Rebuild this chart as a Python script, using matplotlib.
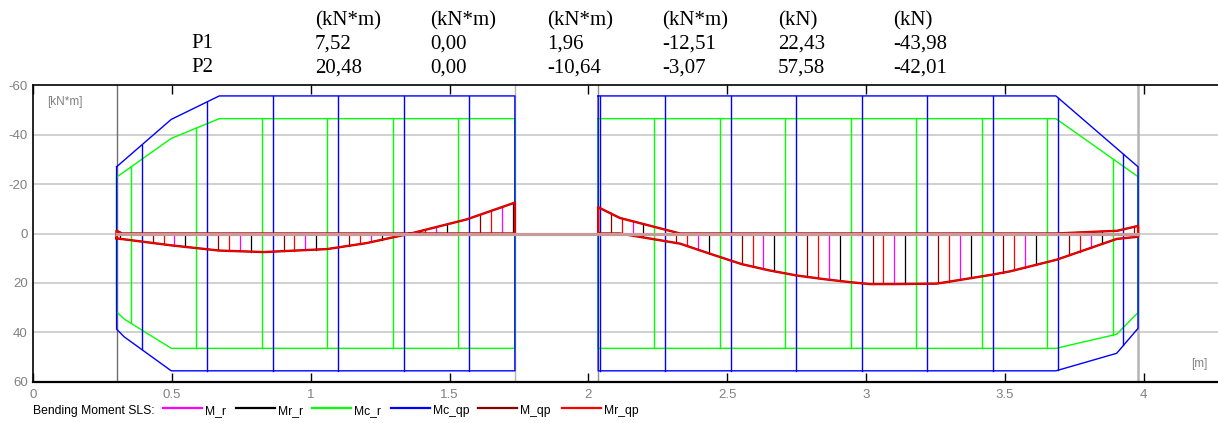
import matplotlib
matplotlib.use("Agg")
import matplotlib.pyplot as plt
import numpy as np
from matplotlib.lines import Line2D

# ---------------- data ----------------
table_rows = ["P1", "P2"]
table_units = ["(kN*m)", "(kN*m)", "(kN*m)", "(kN*m)", "(kN)", "(kN)"]
p1_values = ["7,52", "0,00", "1,96", "-12,51", "22,43", "-43,98"]
p2_values = ["20,48", "0,00", "-10,64", "-3,07", "57,58", "-42,01"]

supports = [0.30, 1.735, 2.035, 3.98]
x_ticks = [0, 0.5, 1, 1.5, 2, 2.5, 3, 3.5, 4]
x_tick_labels = ["0", "0.5", "1", "1.5", "2", "2.5", "3", "3.5", "4"]
y_ticks = [-60, -40, -20, 0, 20, 40, 60]
y_grid = [-40, -20, 0, 20, 40]

series_names = ["M_r", "Mr_r", "Mc_r", "Mc_qp", "M_qp", "Mr_qp"]
series_colors = ["#ff00ff", "#000000", "#00ff00", "#0000ff", "#8b0000", "#ff0000"]

# span P1 - capacity envelopes (Mc_qp, Mc_r)
p1_top_x = [0.30, 0.497, 0.67, 1.735]
p1_mcqp_top = [-27.0, -46.2, -55.7, -55.7]
p1_mcr_top = [-22.8, -38.5, -46.5, -46.5]
p1_bot_x = [0.30, 0.327, 0.497, 1.735]
p1_mcqp_bot = [38.7, 41.8, 55.6, 55.6]
p1_mcr_bot = [31.7, 34.6, 46.5, 46.5]

# span P2 - capacity envelopes
p2_top_x = [2.035, 3.684, 3.98]
p2_mcqp_top = [-55.7, -55.7, -27.0]
p2_mcr_top = [-46.5, -46.5, -23.0]
p2_bot_x = [2.035, 3.684, 3.903, 3.98]
p2_mcqp_bot = [55.6, 55.6, 48.5, 38.4]
p2_mcr_bot = [46.5, 46.5, 40.8, 32.0]

# span P1 - bending moment envelope (max / min)
p1_max_x = [0.30, 0.497, 0.669, 0.83, 1.059, 1.20, 1.335, 1.36, 1.735]
p1_max_m = [1.96, 4.8, 6.9, 7.52, 6.3, 3.9, 0.6, 0.0, 0.0]
p1_min_x = [0.30, 0.32, 1.36, 1.561, 1.735]
p1_min_m = [-1.1, 0.0, 0.0, -5.7, -12.51]

# span P2 - bending moment envelope (max / min)
p2_max_x = [2.035, 2.113, 2.33, 2.43, 2.552, 2.65, 2.75, 2.85, 2.942, 3.014,
            3.10, 3.254, 3.30, 3.458, 3.52, 3.687, 3.903, 3.98]
p2_max_m = [0.0, 0.0, 4.1, 7.9, 12.4, 14.9, 17.0, 18.5, 19.7, 20.48,
            20.48, 20.3, 19.5, 16.6, 15.3, 10.6, 2.2, 1.3]
p2_min_x = [2.035, 2.113, 2.33, 3.684, 3.905, 3.98]
p2_min_m = [-10.64, -6.3, 0.0, 0.0, -1.1, -3.07]

# ---------------- style / layout ----------------
W, H = 1218, 423
fig = plt.figure(figsize=(W / 100, H / 100), dpi=100)
ax_left, ax_right, ax_top, ax_bot = 33.3, 1218, 85.3, 381.7
ax = fig.add_axes([ax_left / W, 1 - ax_bot / H, (ax_right - ax_left) / W, (ax_bot - ax_top) / H])
xmax = 4.268
ax.set_xlim(0, xmax)
ax.set_ylim(60, -60)

SANS = ["Liberation Sans", "DejaVu Sans"]
SERIF = ["Liberation Serif", "DejaVu Serif"]
GRAY_TXT = "#808080"

for gy in y_grid:
    ax.axhline(gy, color="#c8c8c8", lw=1.2, zorder=0.5)

for i, s in enumerate(supports):
    c = ["#707070", "#b4b4b4", "#909090", "#b4b4b4"][i]
    ax.axvline(s, color=c, lw=1.0 if i < 3 else 1.8, zorder=1)

col = dict(zip(series_names, series_colors))


def envelope(top_x, top_y, bot_x, bot_y, color, z):
    xs = list(top_x) + list(bot_x[::-1]) + [top_x[0]]
    ys = list(top_y) + list(bot_y[::-1]) + [top_y[0]]
    ax.plot(xs, ys, color=color, lw=1.0, zorder=z)


spans = [
    dict(top_x=p1_top_x, qp_top=p1_mcqp_top, r_top=p1_mcr_top,
         bot_x=p1_bot_x, qp_bot=p1_mcqp_bot, r_bot=p1_mcr_bot,
         max_x=p1_max_x, max_m=p1_max_m, min_x=p1_min_x, min_m=p1_min_m,
         x0=supports[0], x1=supports[1], start=0.312, first=1),
    dict(top_x=p2_top_x, qp_top=p2_mcqp_top, r_top=p2_mcr_top,
         bot_x=p2_bot_x, qp_bot=p2_mcqp_bot, r_bot=p2_mcr_bot,
         max_x=p2_max_x, max_m=p2_max_m, min_x=p2_min_x, min_m=p2_min_m,
         x0=supports[2], x1=supports[3], start=2.041, first=3),
]

step = 0.03930
for sp in spans:
    envelope(sp["top_x"], sp["r_top"], sp["bot_x"], sp["r_bot"], col["Mc_r"], 2.0)
    envelope(sp["top_x"], sp["qp_top"], sp["bot_x"], sp["qp_bot"], col["Mc_qp"], 2.1)
    xs = np.arange(sp["start"], sp["x1"] - 0.001, step)
    for k, xk in enumerate(xs):
        name = series_names[(sp["first"] + k) % 6]
        if name == "Mc_r":
            lo = np.interp(xk, sp["top_x"], sp["r_top"])
            hi = np.interp(xk, sp["bot_x"], sp["r_bot"])
            ax.plot([xk, xk], [lo, hi], color=col[name], lw=1.0, zorder=2.0)
        elif name == "Mc_qp":
            lo = np.interp(xk, sp["top_x"], sp["qp_top"])
            hi = np.interp(xk, sp["bot_x"], sp["qp_bot"])
            ax.plot([xk, xk], [lo, hi], color=col[name], lw=1.0, zorder=2.1)
        else:
            lo = np.interp(xk, sp["min_x"], sp["min_m"])
            hi = np.interp(xk, sp["max_x"], sp["max_m"])
            ax.plot([xk, xk], [lo, hi], color=col[name], lw=0.9, zorder=3)
    # moment envelope polygon
    px = list(sp["max_x"]) + list(sp["min_x"][::-1]) + [sp["max_x"][0]]
    py = list(sp["max_m"]) + list(sp["min_m"][::-1]) + [sp["max_m"][0]]
    ax.plot(px, py, color="#b00000", lw=1.7, zorder=4, solid_joinstyle="round")
    ax.plot(px, py, color=col["Mr_qp"], lw=0.9, zorder=4.1, solid_joinstyle="round")

# zero line of the diagram
ax.plot([supports[0], supports[-1]], [0, 0], color="#c99a9a", lw=2.3, zorder=5)

# axes styling
ax.spines["right"].set_visible(False)
ax.spines["left"].set_linewidth(1.2)
ax.spines["top"].set_linewidth(1.2)
ax.spines["bottom"].set_linewidth(1.6)
for side in ["left", "top", "bottom"]:
    ax.spines[side].set_color("#000000")
    ax.spines[side].set_zorder(6)

ax.set_xticks(x_ticks)
ax.set_xticklabels(x_tick_labels, color=GRAY_TXT, fontsize=9.5, family=SANS)
ax.tick_params(axis="x", direction="in", length=6.5, width=1.0, color="#000000",
               top=True, bottom=True, pad=5)
ax.set_yticks(y_ticks)
ax.set_yticklabels([str(v) for v in y_ticks], color=GRAY_TXT, fontsize=9.5, family=SANS)
ax.tick_params(axis="y", length=0, pad=4)

fig.text(46.7 / W, 1 - 102.3 / H, "[kN*m]", color=GRAY_TXT, fontsize=8.5,
         family=SANS, va="center", ha="left")
fig.text(1207 / W, 1 - 364.3 / H, "[m]", color=GRAY_TXT, fontsize=8.5,
         family=SANS, va="center", ha="right")

# top table
col_x = [315, 430, 547, 662, 778, 893]
row_base = [25.5, 48.5, 72.5]
TFS = 15
for cx, u in zip(col_x, table_units):
    fig.text(cx / W, 1 - row_base[0] / H, u, fontsize=TFS, family=SERIF,
             va="baseline", ha="left")
for r, (name, vals) in enumerate(zip(table_rows, [p1_values, p2_values])):
    yb = 1 - row_base[r + 1] / H
    fig.text(191 / W, yb, name, fontsize=TFS, family=SERIF, va="baseline", ha="left")
    for cx, v in zip(col_x, vals):
        fig.text(cx / W, yb, v, fontsize=TFS, family=SERIF, va="baseline", ha="left")

# legend
leg_y = 407.5
fig.text(33.3 / W, 1 - 411 / H, "Bending Moment SLS:", fontsize=8.7, family=SANS,
         va="center", ha="left", color="#000000")
leg_x = [162.7, 236, 312.3, 390.7, 478.3, 561.7]
for lx, name, c in zip(leg_x, series_names, series_colors):
    fig.add_artist(Line2D([lx / W, (lx + 39) / W], [1 - leg_y / H, 1 - leg_y / H],
                          color=c, lw=1.6, transform=fig.transFigure))
    fig.text((lx + 42) / W, 1 - 411 / H, name, fontsize=8.7, family=SANS,
             va="center", ha="left", color="#000000")

fig.savefig("out.png", dpi=100)
